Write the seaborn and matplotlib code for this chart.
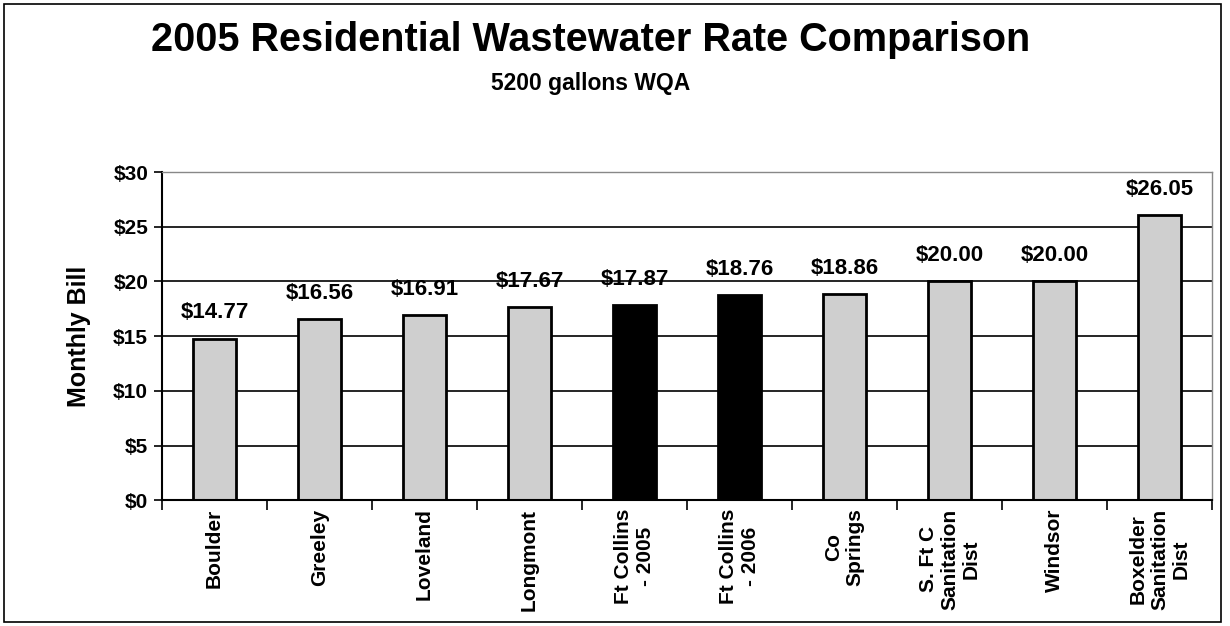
import matplotlib
matplotlib.use('Agg')
import matplotlib.pyplot as plt
import pandas as pd
import seaborn as sns
from matplotlib.patches import Rectangle

# data
cities = ['Boulder', 'Greeley', 'Loveland', 'Longmont', 'Ft Collins\n- 2005',
          'Ft Collins\n- 2006', 'Co\nSprings', 'S. Ft C\nSanitation\nDist',
          'Windsor', 'Boxelder\nSanitation\nDist']
bills = [14.77, 16.56, 16.91, 17.67, 17.87, 18.76, 18.86, 20.00, 20.00, 26.05]
yticks = [0, 5, 10, 15, 20, 25, 30]

df = pd.DataFrame({'city': cities, 'bill': bills})
bar_colors = ['black' if c.startswith('Ft Collins') else '#cfcfcf' for c in cities]

sns.set_style('white')
plt.rcParams['font.family'] = ['Liberation Sans', 'DejaVu Sans']
plt.rcParams['font.weight'] = 'bold'
plt.rcParams['text.color'] = 'black'
plt.rcParams['xtick.color'] = 'black'
plt.rcParams['ytick.color'] = 'black'
plt.rcParams['axes.labelcolor'] = 'black'

fig = plt.figure(figsize=(12.3, 6.26), dpi=100)
ax = fig.add_axes([0.1317, 0.201, 0.8537, 0.524])

sns.barplot(data=df, x='city', y='bill', hue='city', palette=bar_colors,
            legend=False, width=0.41, edgecolor='black', linewidth=2,
            saturation=1, ax=ax)

ax.set_ylim(0, 30)
ax.set_xlim(-0.5, len(cities) - 0.5)
ax.set_yticks(yticks)
ax.set_yticklabels(['$%d' % v for v in yticks], fontsize=15, fontweight='bold')
ax.yaxis.grid(True, color='black', linewidth=1.2)
ax.set_axisbelow(True)

# category ticks sit between bars, labels in the middle
ax.set_xticks([i - 0.5 for i in range(len(cities) + 1)])
ax.set_xticklabels([])
ax.set_xticks(range(len(cities)), minor=True)
ax.set_xticklabels(cities, minor=True, rotation=90, fontsize=15,
                   fontweight='bold', ha='center', va='top',
                   multialignment='center', linespacing=1.15)
ax.tick_params(axis='x', which='major', direction='out', length=7, width=1.2,
               color='black', bottom=True)
ax.tick_params(axis='x', which='minor', length=0, pad=6)
ax.tick_params(axis='y', direction='out', length=6, width=1.2, color='black',
               left=True, pad=4)

for side in ['left', 'bottom']:
    ax.spines[side].set_color('black')
    ax.spines[side].set_linewidth(1.5)
for side in ['top', 'right']:
    ax.spines[side].set_color('#888888')
    ax.spines[side].set_linewidth(1)

for i, v in enumerate(bills):
    ax.annotate('$%.2f' % v, (i, v), xytext=(0, 11), textcoords='offset points',
                ha='center', va='bottom', fontsize=16, fontweight='bold')

ax.set_xlabel('')
ax.set_ylabel('Monthly Bill', fontsize=18, fontweight='bold', labelpad=16)

fig.text(0.48, 0.936, '2005 Residential Wastewater Rate Comparison',
         ha='center', va='center', fontsize=28.5, fontweight='bold')
fig.text(0.48, 0.866, '5200 gallons WQA', ha='center', va='center',
         fontsize=16.5, fontweight='bold')

fig.patches.append(Rectangle((0.003, 0.006), 0.99, 0.987, transform=fig.transFigure,
                             fill=False, edgecolor='black', linewidth=1.2))

fig.savefig('out.png', dpi=100)
